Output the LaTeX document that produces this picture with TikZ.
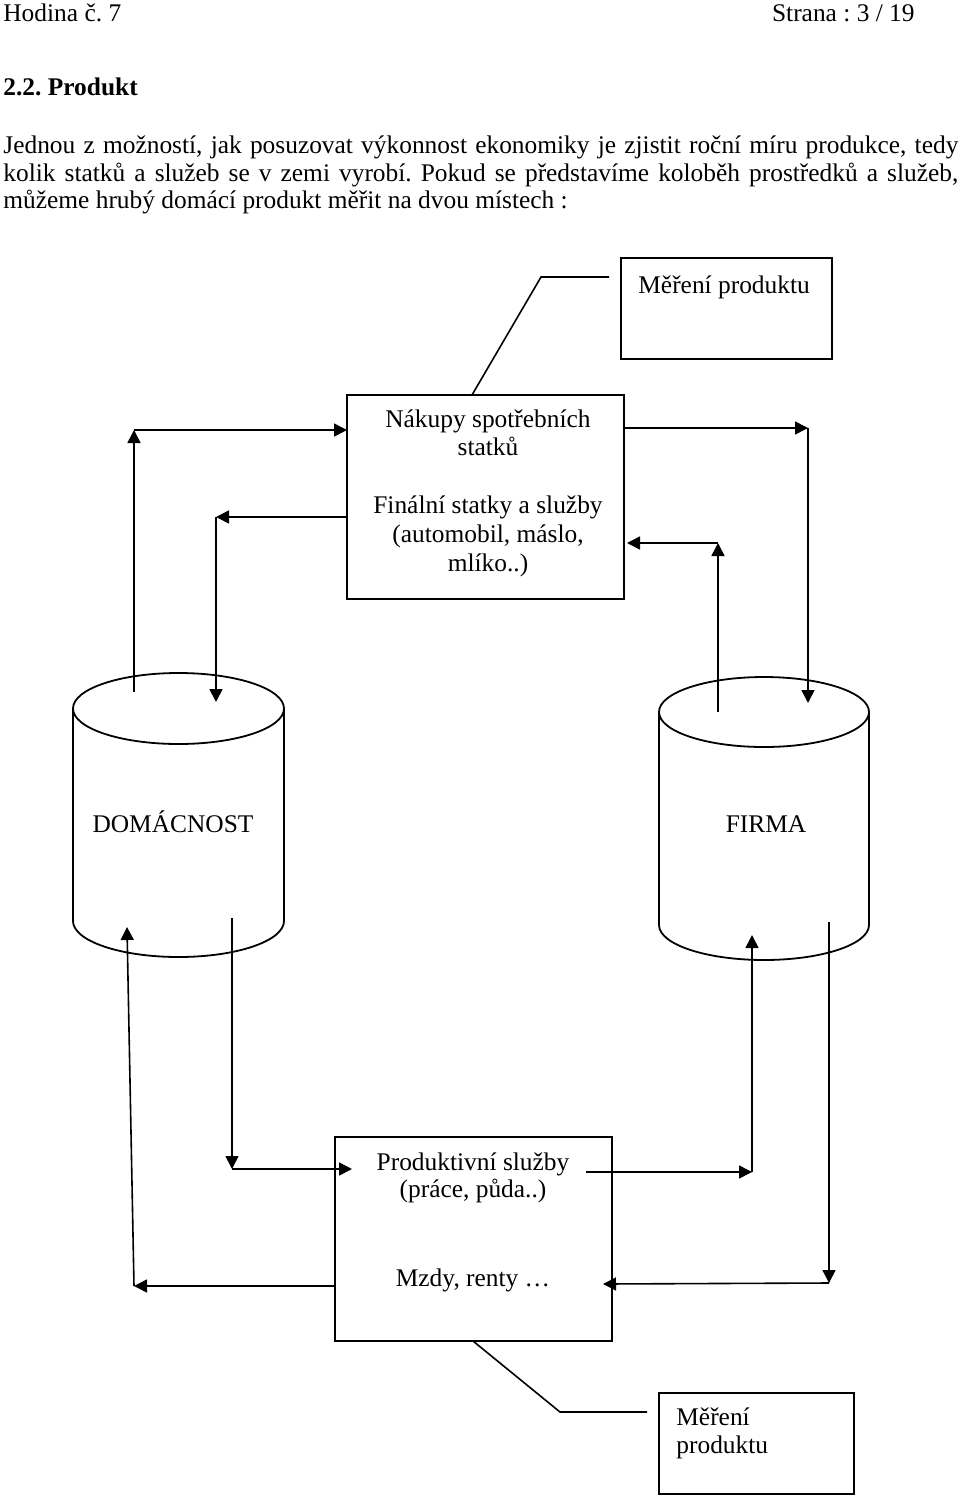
\documentclass[tikz,border=0pt]{standalone}
\usepackage{fontspec}
\setmainfont{Liberation Serif}
\usetikzlibrary{arrows.meta}
\frenchspacing
\tikzset{
  txt/.style={inner sep=0pt, font=\fontsize{12.7pt}{14pt}\selectfont},
  boxx/.style={draw, line width=0.9pt, inner sep=0pt},
  flow/.style={line width=0.8pt, -{Triangle[length=6.5pt,width=6.5pt]}},
  plain/.style={line width=0.8pt},
  cyl/.style={line width=0.9pt}
}
\begin{document}
\begin{tikzpicture}[x=0.5pt,y=-0.5pt]
\useasboundingbox (0,0) rectangle (960,1499);

% header and paragraph
\node[txt, anchor=base west] (hod) at (3,21) {Hodina č. 7};
\node[txt, anchor=base east] (str) at (915,21) {Strana : 3 / 19};
\node[txt, anchor=base west, font=\fontsize{12.7pt}{14pt}\selectfont\bfseries] (sec) at (3,95) {2.2. Produkt};
\node[txt, anchor=base west] (p1) at (3,153) {\makebox[477.5pt][s]{Jednou z možností, jak posuzovat výkonnost ekonomiky je zjistit roční míru produkce, tedy}};
\node[txt, anchor=base west] (p2) at (3,181) {\makebox[477.5pt][s]{kolik statků a služeb se v zemi vyrobí. Pokud se představíme koloběh prostředků a služeb,}};
\node[txt, anchor=base west] (p3) at (3,208) {můžeme hrubý domácí produkt měřit na dvou místech :};

% boxes
\node[boxx, minimum width=105.5pt, minimum height=50.5pt] (mer1) at (726.5,308.5) {};
\node[boxx, minimum width=138.5pt, minimum height=102pt] (nak) at (485.5,497) {};
\node[boxx, minimum width=138.5pt, minimum height=102pt] (prod) at (473.5,1239) {};
\node[boxx, minimum width=97.5pt, minimum height=50.5pt] (mer2) at (756.5,1443.5) {};

% box texts
\node[txt, anchor=base west] (mer1t) at (638,293) {Měření produktu};
\node[txt, anchor=base] (nak1) at (488,427) {Nákupy spotřebních};
\node[txt, anchor=base] (nak2) at (488,455) {statků};
\node[txt, anchor=base] (nak3) at (488,513) {Finální statky a služby};
\node[txt, anchor=base] (nak4) at (488,542) {(automobil, máslo,};
\node[txt, anchor=base] (nak5) at (488,571) {mlíko..)};
\node[txt, anchor=base] (prod1) at (473,1170) {Produktivní služby};
\node[txt, anchor=base] (prod2) at (473,1197) {(práce, půda..)};
\node[txt, anchor=base] (prod3) at (473,1286) {Mzdy, renty …};
\node[txt, anchor=base west] (mer2a) at (676,1425) {Měření};
\node[txt, anchor=base west] (mer2b) at (676,1453) {produktu};

% cylinders
\draw[cyl] (178.5,708.5) ellipse [x radius=52.75pt, y radius=17.75pt];
\draw[cyl] (73,708.5) -- (73,921) arc[start angle=180, end angle=360, x radius=52.75pt, y radius=18pt] -- (284,708.5);
\node[txt, anchor=base] (dom) at (173,832) {DOMÁCNOST};

\draw[cyl] (764,712) ellipse [x radius=52.5pt, y radius=17.5pt];
\draw[cyl] (659,712) -- (659,925) arc[start angle=180, end angle=360, x radius=52.5pt, y radius=17.5pt] -- (869,712);
\node[txt, anchor=base] (fir) at (766,832) {FIRMA};

% leader lines
\coordinate (l1e) at (609,277);
\coordinate (l1k) at (541,277);
\coordinate (l1s) at (472,395);
\draw[plain] (l1e) -- (l1k) -- (l1s);
\coordinate (l2s) at (473,1341);
\coordinate (l2k) at (560,1412);
\coordinate (l2e) at (647,1412);
\draw[plain] (l2s) -- (l2k) -- (l2e);

% upper flows
\coordinate (a1s) at (134,692);
\coordinate (a1c) at (134,430);
\coordinate (a1e) at (347,430);
\draw[flow] (a1s) -- (a1c);
\draw[flow] (a1c) -- (a1e);

\coordinate (a2s) at (347,517);
\coordinate (a2c) at (216,517);
\coordinate (a2e) at (216,702);
\draw[flow] (a2s) -- (a2c);
\draw[flow] (a2c) -- (a2e);

\coordinate (a3s) at (624,428);
\coordinate (a3c) at (808,428);
\coordinate (a3e) at (808,703);
\draw[flow] (a3s) -- (a3c);
\draw[flow] (a3c) -- (a3e);

\coordinate (a4s) at (718,712);
\coordinate (a4c) at (718,543);
\coordinate (a4e) at (627,543);
\draw[flow] (a4s) -- (a4c);
\draw[flow] (a4c) -- (a4e);

% lower flows
\coordinate (b1s) at (232,918);
\coordinate (b1c) at (232,1169);
\coordinate (b1e) at (352,1169);
\draw[flow] (b1s) -- (b1c);
\draw[flow] (b1c) -- (b1e);

\coordinate (b2s) at (335,1286);
\coordinate (b2c) at (134,1286);
\coordinate (b2e) at (127,927);
\draw[flow] (b2s) -- (b2c);
\draw[flow] (b2c) -- (b2e);

\coordinate (b3s) at (586,1172);
\coordinate (b3c) at (752,1172);
\coordinate (b3e) at (752,935);
\draw[flow] (b3s) -- (b3c);
\draw[flow] (b3c) -- (b3e);

\coordinate (b4s) at (829,922);
\coordinate (b4c) at (829,1283);
\coordinate (b4e) at (603,1284);
\draw[flow] (b4s) -- (b4c);
\draw[flow] (b4c) -- (b4e);
\end{tikzpicture}
\end{document}
